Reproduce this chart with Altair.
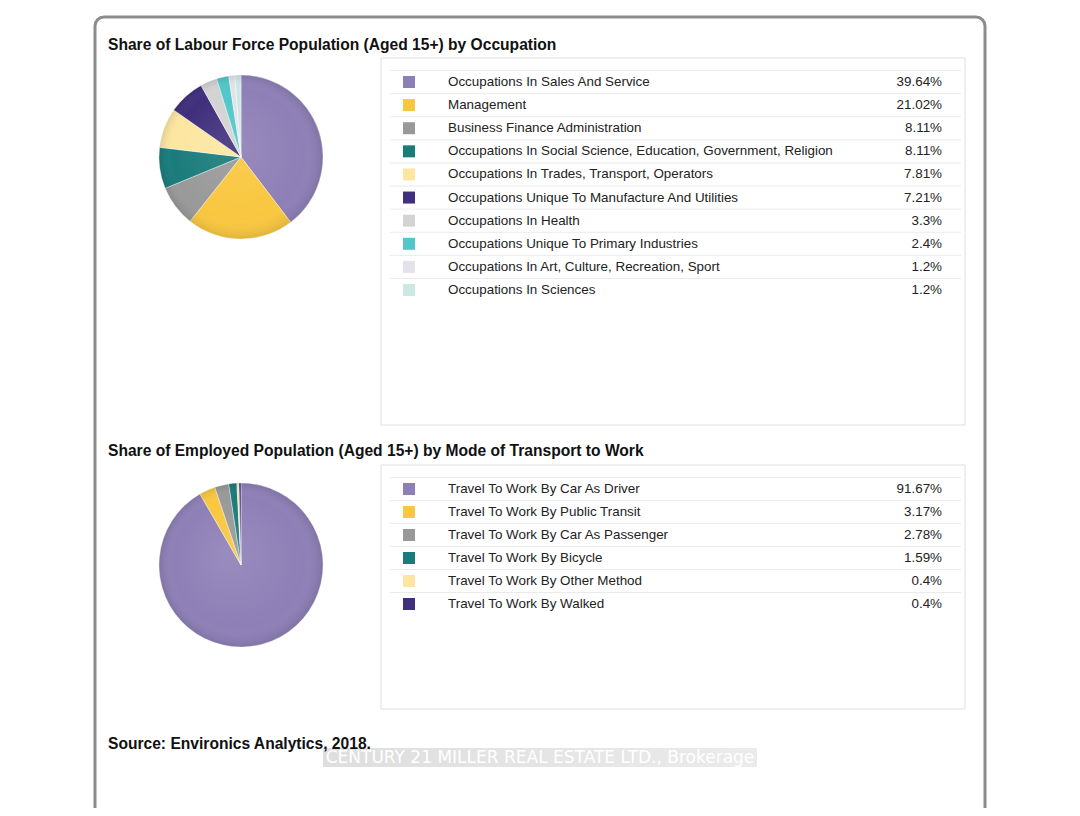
import altair as alt
import pandas as pd

# ---------------- data ----------------
title1 = "Share of Labour Force Population (Aged 15+) by Occupation"
occ_labels = [
    "Occupations In Sales And Service",
    "Management",
    "Business Finance Administration",
    "Occupations In Social Science, Education, Government, Religion",
    "Occupations In Trades, Transport, Operators",
    "Occupations Unique To Manufacture And Utilities",
    "Occupations In Health",
    "Occupations Unique To Primary Industries",
    "Occupations In Art, Culture, Recreation, Sport",
    "Occupations In Sciences",
]
occ_values = [39.64, 21.02, 8.11, 8.11, 7.81, 7.21, 3.3, 2.4, 1.2, 1.2]
occ_colors = ["#8e7fb6", "#f9c73f", "#999999", "#1a7b7b", "#fce6a0",
              "#3f2f7c", "#d3d3d3", "#52c6c8", "#e4e2e8", "#cbe8e5"]

title2 = "Share of Employed Population (Aged 15+) by Mode of Transport to Work"
tr_labels = [
    "Travel To Work By Car As Driver",
    "Travel To Work By Public Transit",
    "Travel To Work By Car As Passenger",
    "Travel To Work By Bicycle",
    "Travel To Work By Other Method",
    "Travel To Work By Walked",
]
tr_values = [91.67, 3.17, 2.78, 1.59, 0.4, 0.4]
tr_colors = ["#8e7fb6", "#f9c73f", "#999999", "#1a7b7b", "#fce6a0", "#3f2f7c"]

source_text = "Source: Environics Analytics, 2018."
watermark_text = "CENTURY 21 MILLER REAL ESTATE LTD., Brokerage"

FONT = "Liberation Sans"
TITLE_SIZE = 15.6
ROW_SIZE = 13.4


def frame_df(labels, values):
    return pd.DataFrame({
        "idx": list(range(len(labels))),
        "label": labels,
        "value": values,
        "vtext": [f"{v}%" for v in values],
    })


one = pd.DataFrame({"a": [0]})


def section(labels, values, colors, title, title_y, box_y0, box_y1, row0, row_last, cx, cy):
    df = frame_df(labels, values)
    n = len(labels)
    color = alt.Color("label:N", scale=alt.Scale(domain=labels, range=colors), legend=None)
    yscale = alt.Scale(domain=[0, n - 1], range=[row0, row_last])
    ysep = alt.Scale(domain=[0, n - 1], range=[row0 - 11.5, row_last - 11.5])

    t = alt.Chart(pd.DataFrame({"t": [title]})).mark_text(
        align="left", baseline="middle", font=FONT, fontSize=TITLE_SIZE, fontWeight="bold", color="#111"
    ).encode(x=alt.value(100), y=alt.value(title_y), text="t:N")

    box = alt.Chart(one).mark_rect(fill="white", stroke="#dedede", strokeWidth=1).encode(
        x=alt.value(373), x2=alt.value(957), y=alt.value(box_y0), y2=alt.value(box_y1))

    seps = alt.Chart(df).mark_rule(color="#ebebeb", strokeWidth=1).encode(
        y=alt.Y("idx:Q", scale=ysep, axis=None),
        x=alt.value(382), x2=alt.value(953))

    sw = alt.Chart(df).mark_square(size=144, opacity=1).encode(
        x=alt.value(401), y=alt.Y("idx:Q", scale=yscale, axis=None), color=color)

    lab = alt.Chart(df).mark_text(align="left", baseline="middle", font=FONT, fontSize=ROW_SIZE, color="#222").encode(
        x=alt.value(440), y=alt.Y("idx:Q", scale=yscale, axis=None), text="label:N")

    val = alt.Chart(df).mark_text(align="right", baseline="middle", font=FONT, fontSize=ROW_SIZE, color="#222").encode(
        x=alt.value(934), y=alt.Y("idx:Q", scale=yscale, axis=None), text="vtext:N")

    pie = alt.Chart(df).mark_arc(outerRadius=82, stroke="white", strokeWidth=0.4).encode(
        theta=alt.Theta("value:Q", stack=True),
        order=alt.Order("idx:Q"),
        color=color,
        x=alt.value(cx), y=alt.value(cy))

    shade = alt.Chart(one).mark_arc(
        outerRadius=82, theta=0, theta2=6.2832,
        fill=alt.Gradient(gradient="radial", x1=0.42, y1=0.42, r1=0, x2=0.5, y2=0.5, r2=0.5,
                          stops=[alt.GradientStop(offset=0, color="rgba(255,255,255,0.10)"),
                                 alt.GradientStop(offset=0.8, color="rgba(255,255,255,0.0)"),
                                 alt.GradientStop(offset=1, color="rgba(0,0,0,0.10)")])
    ).encode(x=alt.value(cx), y=alt.value(cy))

    return [t, box, seps, sw, lab, val, pie, shade]


outer = alt.Chart(one).mark_rect(fill="white", stroke="#8c8c8c", strokeWidth=3, cornerRadius=9).encode(
    x=alt.value(87), x2=alt.value(977), y=alt.value(9), y2=alt.value(840))

s1 = section(occ_labels, occ_values, occ_colors, title1, 37, 50, 417, 74, 282, 233, 149)
s2 = section(tr_labels, tr_values, tr_colors, title2, 443, 457, 701, 481, 596, 233, 557)

src = alt.Chart(pd.DataFrame({"t": [source_text]})).mark_text(
    align="left", baseline="middle", font=FONT, fontSize=TITLE_SIZE, fontWeight="bold", color="#111"
).encode(x=alt.value(100), y=alt.value(735.5), text="t:N")

wm_bg = alt.Chart(one).mark_rect(
    fill=alt.Gradient(gradient="linear", x1=0, y1=0, x2=1, y2=0,
                      stops=[alt.GradientStop(offset=0, color="#dedede"),
                             alt.GradientStop(offset=1, color="#ebebeb")])
).encode(x=alt.value(315), x2=alt.value(749), y=alt.value(740), y2=alt.value(759))

wm = alt.Chart(pd.DataFrame({"t": [watermark_text]})).mark_text(
    align="center", baseline="middle", font="DejaVu Sans", fontSize=17, color="white"
).encode(x=alt.value(532), y=alt.value(749.5), text="t:N")

layers = [outer] + s1 + s2 + [wm_bg, wm, src]

chart = alt.layer(*layers).resolve_scale(
    y="independent", x="independent", color="independent", theta="independent"
).properties(
    width=1064, height=800, autosize=alt.AutoSizeParams(type="none"), padding=0
).configure_view(stroke=None)

chart.save("out.html", embed_options={"renderer": "svg", "actions": False})
